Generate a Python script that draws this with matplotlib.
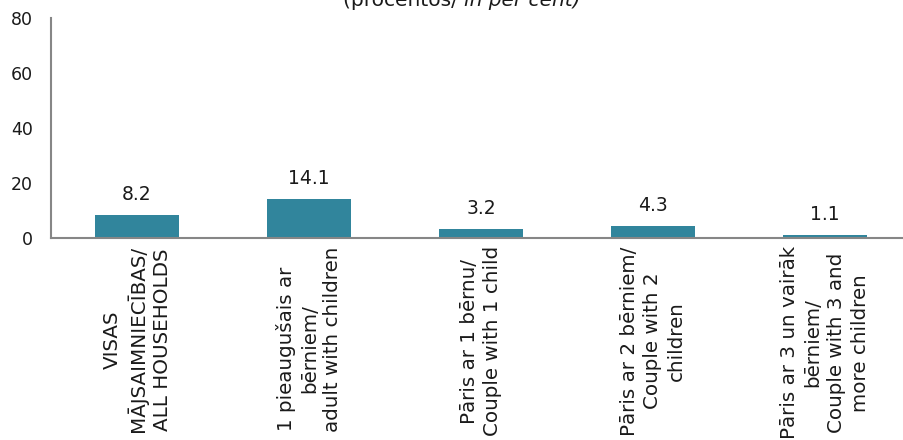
import matplotlib.pyplot as plt

# Dati
kategorijas = [
    "VISAS\nMĀJSAIMNIECĪBAS/\nALL HOUSEHOLDS",
    "1 pieaugušais ar\nbērniem/\n1 adult with children",
    "Pāris ar 1 bērnu/\nCouple with 1 child",
    "Pāris ar 2 bērniem/\nCouple with 2\nchildren",
    "Pāris ar 3 un vairāk\nbērniem/\nCouple with 3 and\nmore children",
]
vertibas = [8.2, 14.1, 3.2, 4.3, 1.1]
y_ticks = [0, 20, 40, 60, 80]

plt.rcParams['font.family'] = ['DejaVu Sans']

fig = plt.figure(figsize=(9.04, 4.40), dpi=100)
ax = fig.add_axes([51 / 904, 202 / 440, 860 / 904, 220 / 440])

x = range(len(kategorijas))
bars = ax.bar(x, vertibas, width=0.49, color='#31859C', zorder=2)

for xi, v in zip(x, vertibas):
    ax.annotate(f"{v:.1f}", (xi, v), xytext=(0, 11), textcoords='offset points',
                ha='center', va='baseline', fontsize=13.5, color='#1a1a1a')

ax.set_xlim(-0.5, len(kategorijas) - 0.5)
ax.set_ylim(0, 80)
ax.set_yticks(y_ticks)
ax.tick_params(axis='y', length=0, pad=13, labelsize=12.5, labelcolor='#1a1a1a')
ax.set_xticks(list(x))
ax.set_xticklabels(kategorijas, rotation=90, ha='center', va='top',
                   multialignment='center', fontsize=14.3, color='#1a1a1a')
for lbl in ax.get_xticklabels():
    lbl.set_linespacing(1.3)
ax.tick_params(axis='x', length=0, pad=6)

for side in ['top', 'right']:
    ax.spines[side].set_visible(False)
for side in ['left', 'bottom']:
    ax.spines[side].set_color('#868686')
    ax.spines[side].set_linewidth(1.5)

# Virsraksts (daļēji nogriezts augšā)
fig.text(0.513, 1 - 6 / 440, "(procentos/ ", ha='right', va='baseline',
         fontsize=14.5, color='#1a1a1a')
fig.text(0.513, 1 - 6 / 440, "in per cent)", ha='left', va='baseline',
         fontsize=14.5, style='italic', color='#1a1a1a')

fig.savefig('out.png', dpi=100)
